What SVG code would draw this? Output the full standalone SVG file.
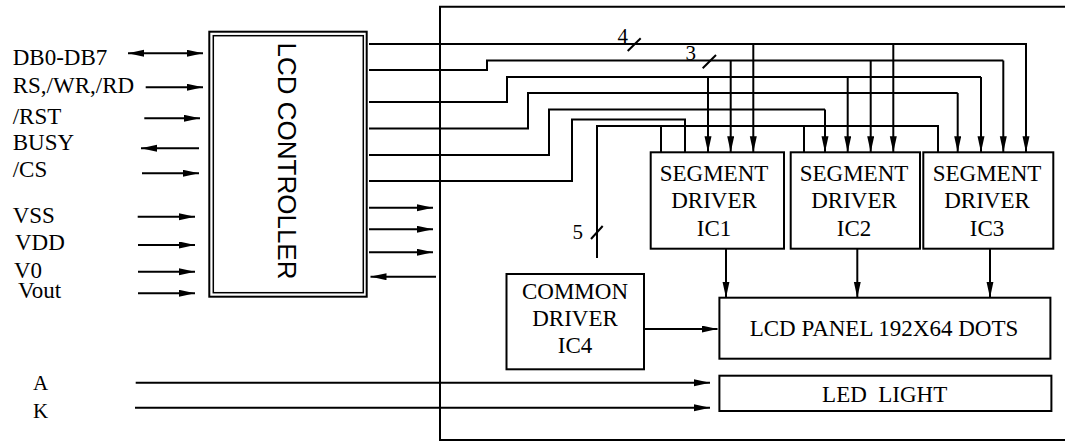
<svg xmlns="http://www.w3.org/2000/svg" width="1065" height="441" viewBox="0 0 1065 441">
<style>
.t{font-family:"Liberation Serif","Times New Roman",serif;font-size:23px;fill:#000}
.s{font-family:"Liberation Serif","Times New Roman",serif;font-size:21px;fill:#000}
.box{fill:#fff;stroke:#000;stroke-width:2}
.ln{fill:none;stroke:#000;stroke-width:2}
.ar{fill:none;stroke:#000;stroke-width:2;marker-end:url(#ah)}
</style>
<defs>
<marker id="ah" markerUnits="userSpaceOnUse" markerWidth="16" markerHeight="8" refX="16" refY="3.5" orient="auto">
<path d="M0,0 L16,3.5 L0,7 z" fill="#000"/>
</marker>
<marker id="ahs" markerUnits="userSpaceOnUse" markerWidth="16" markerHeight="8" refX="16" refY="3.5" orient="auto-start-reverse">
<path d="M0,0 L16,3.5 L0,7 z" fill="#000"/>
</marker>
</defs>
<rect width="1065" height="441" fill="#fff"/>
<path id="frame" class="ln" d="M1065,6.7 H440 V440 H1065"/>

<g id="labels">
<text class="t" x="12.7" y="65">DB0-DB7</text>
<text class="t" x="12.7" y="93.3">RS,/WR,/RD</text>
<text class="t" x="12.7" y="124.3">/RST</text>
<text class="t" x="12.7" y="150">BUSY</text>
<text class="t" x="12.7" y="176.7">/CS</text>
<text class="t" x="12.7" y="223.3">VSS</text>
<text class="t" x="15" y="250">VDD</text>
<text class="t" x="14" y="278.3">V0</text>
<text class="t" x="18" y="297.7">Vout</text>
<text class="s" x="33" y="390">A</text>
<text class="s" x="33" y="418">K</text>
</g>

<g id="controller">
<rect class="box" x="209.3" y="31.7" width="157.4" height="265"/>
<rect fill="none" stroke="#000" stroke-width="1.5" x="213.3" y="35.7" width="150" height="257"/>
<text transform="translate(278,161) rotate(90)" text-anchor="middle" font-family="Liberation Sans, Arial, sans-serif" font-size="26">LCD CONTROLLER</text>
</g>

<g id="seg1">
<rect class="box" x="650.7" y="152.3" width="133.3" height="96.4"/>
<text class="t" text-anchor="middle" x="714" y="180.7">SEGMENT</text>
<text class="t" text-anchor="middle" x="714" y="208.3">DRIVER</text>
<text class="t" text-anchor="middle" x="714" y="235.7">IC1</text>
</g>
<g id="seg2">
<rect class="box" x="790.7" y="152.3" width="129.3" height="96.4"/>
<text class="t" text-anchor="middle" x="854" y="180.7">SEGMENT</text>
<text class="t" text-anchor="middle" x="854" y="208.3">DRIVER</text>
<text class="t" text-anchor="middle" x="854" y="235.7">IC2</text>
</g>
<g id="seg3">
<rect class="box" x="923.3" y="152.3" width="130" height="96.4"/>
<text class="t" text-anchor="middle" x="987" y="180.7">SEGMENT</text>
<text class="t" text-anchor="middle" x="987" y="208.3">DRIVER</text>
<text class="t" text-anchor="middle" x="987" y="235.7">IC3</text>
</g>
<g id="common">
<rect class="box" x="506.5" y="274" width="137.5" height="95.3"/>
<text class="t" text-anchor="middle" x="575" y="299.3">COMMON</text>
<text class="t" text-anchor="middle" x="575" y="326">DRIVER</text>
<text class="t" text-anchor="middle" x="575" y="353.3">IC4</text>
</g>
<g id="panel">
<rect class="box" x="719.4" y="297.7" width="331" height="61"/>
<text class="t" text-anchor="middle" x="884" y="336">LCD PANEL 192X64 DOTS</text>
</g>
<g id="led">
<rect class="box" x="719.4" y="375.7" width="332" height="35.3"/>
<text class="t" text-anchor="middle" x="884.7" y="401.7" xml:space="preserve">LED  LIGHT</text>
</g>

<g id="connectors">
<!-- left inputs -->
<line class="ln" x1="128" y1="53.3" x2="203" y2="53.3" marker-start="url(#ahs)" marker-end="url(#ahs)"/>
<line class="ar" x1="145.7" y1="87.3" x2="203" y2="87.3"/>
<line class="ar" x1="144.3" y1="118.3" x2="200" y2="118.3"/>
<line class="ar" x1="199" y1="148.3" x2="141" y2="148.3"/>
<line class="ar" x1="142" y1="173.3" x2="199" y2="173.3"/>
<line class="ar" x1="137.7" y1="216.7" x2="195" y2="216.7"/>
<line class="ar" x1="138" y1="245" x2="195" y2="245"/>
<line class="ar" x1="138" y1="271.7" x2="195" y2="271.7"/>
<line class="ar" x1="138" y1="293.3" x2="195" y2="293.3"/>
<!-- controller right arrows -->
<line class="ar" x1="369" y1="207.7" x2="433" y2="207.7"/>
<line class="ar" x1="369" y1="229.3" x2="433" y2="229.3"/>
<line class="ar" x1="369" y1="252.3" x2="433" y2="252.3"/>
<line class="ar" x1="436" y1="276.7" x2="370.5" y2="276.7"/>
<!-- buses -->
<path class="ln" d="M369,44 H1026 V140"/>
<path class="ln" d="M369,70 H487 V60.5 H1003.3"/>
<path class="ln" d="M369,102 H507 V77 H981"/>
<path class="ln" d="M369,128.5 H528 V93 H957.7"/>
<path class="ln" d="M369,155 H549 V109.5 H825"/>
<path class="ln" d="M369,181 H572 V119.5 H685 V152.3"/>
<path class="ln" d="M597,258 V126 H938 V152.3"/>
<line class="ln" x1="661" y1="126" x2="661" y2="152.3"/>
<line class="ln" x1="804" y1="126" x2="804" y2="152.3"/>
<!-- drops -->
<line class="ar" x1="753.3" y1="44" x2="753.3" y2="152.3"/>
<line class="ar" x1="893.3" y1="44" x2="893.3" y2="152.3"/>
<line class="ar" x1="1026" y1="44" x2="1026" y2="152.3"/>
<line class="ar" x1="730.7" y1="60.5" x2="730.7" y2="152.3"/>
<line class="ar" x1="870.7" y1="60.5" x2="870.7" y2="152.3"/>
<line class="ar" x1="1003.3" y1="60.5" x2="1003.3" y2="152.3"/>
<line class="ar" x1="708" y1="77" x2="708" y2="152.3"/>
<line class="ar" x1="847.7" y1="77" x2="847.7" y2="152.3"/>
<line class="ar" x1="981" y1="77" x2="981" y2="152.3"/>
<line class="ar" x1="957.7" y1="93" x2="957.7" y2="152.3"/>
<line class="ar" x1="825" y1="109.5" x2="825" y2="152.3"/>
<!-- bus slashes -->
<line class="ln" x1="627.7" y1="51" x2="640.7" y2="38.3"/>
<text class="s" x="617.5" y="42.7">4</text>
<line class="ln" x1="702.7" y1="68.3" x2="716" y2="55"/>
<text class="s" x="685.5" y="60">3</text>
<line class="ln" x1="591" y1="239" x2="602.7" y2="226"/>
<text class="s" x="572.5" y="239">5</text>
<!-- to panel -->
<line class="ar" x1="726" y1="248.7" x2="726" y2="297.7"/>
<line class="ar" x1="857.3" y1="248.7" x2="857.3" y2="297.7"/>
<line class="ar" x1="990" y1="248.7" x2="990" y2="297.7"/>
<line class="ar" x1="644" y1="329" x2="717.5" y2="329"/>
<!-- A K -->
<line class="ar" x1="135.7" y1="382.7" x2="710" y2="382.7"/>
<line class="ar" x1="135" y1="407.7" x2="710" y2="407.7"/>
</g>
</svg>
